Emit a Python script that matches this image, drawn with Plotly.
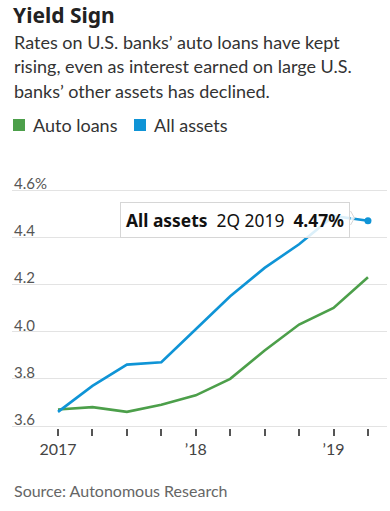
import plotly.graph_objects as go

quarters = ["1Q 2017", "2Q 2017", "3Q 2017", "4Q 2017",
            "1Q 2018", "2Q 2018", "3Q 2018", "4Q 2018",
            "1Q 2019", "2Q 2019"]
auto_loans = [3.67, 3.68, 3.66, 3.69, 3.73, 3.80, 3.92, 4.03, 4.10, 4.23]
all_assets = [3.66, 3.77, 3.86, 3.87, 4.01, 4.15, 4.27, 4.37, 4.49, 4.47]
x_labels = ["2017", "", "", "", "’18", "", "", "", "’19", ""]
y_ticks = [3.6, 3.8, 4.0, 4.2, 4.4, 4.6]
y_labels = ["3.6", "3.8", "4.0", "4.2", "4.4", "4.6%"]

GREEN = "#4c9f4a"
BLUE = "#0f94d6"
FONT = "Lato"

W, H = 390, 511
L, R, T, B = 12, 3, 160, 83
PW, PH = W - L - R, H - T - B
X0 = 58.0      # pixel of first quarter
DX = 34.44     # pixels per quarter
Y36 = 426.0    # pixel of 3.6
DY = 236.0     # pixels per 1.0


def px(x):
    return (x - L) / PW


def py(y):
    return (H - B - y) / PH


xi = list(range(len(quarters)))

fig = go.Figure()
fig.add_trace(go.Scatter(x=xi, y=auto_loans, mode="lines", name="Auto loans",
                         line=dict(color=GREEN, width=2.6), hoverinfo="skip"))
fig.add_trace(go.Scatter(x=xi, y=all_assets, mode="lines", name="All assets",
                         line=dict(color=BLUE, width=2.6), hoverinfo="skip"))
fig.add_trace(go.Scatter(x=[xi[-1]], y=[all_assets[-1]], mode="markers",
                         marker=dict(color=BLUE, size=7), hoverinfo="skip",
                         showlegend=False))

annotations = []
shapes = []

annotations.append(dict(text="<b>Yield Sign</b>", x=px(11), y=py(15), xref="paper", yref="paper",
                        xanchor="left", yanchor="middle", showarrow=False,
                        font=dict(family="Noto Sans", size=21, color="#222")))
sub = ["Rates on U.S. banks’ auto loans have kept",
       "rising, even as interest earned on large U.S.",
       "banks’ other assets has declined."]
for i, s in enumerate(sub):
    annotations.append(dict(text=s, x=px(12), y=py(42 + i * 24.3), xref="paper", yref="paper",
                            xanchor="left", yanchor="middle", showarrow=False,
                            font=dict(family=FONT, size=18, color="#333")))

# legend
for (x0, color, name) in [(13, GREEN, "Auto loans"), (134, BLUE, "All assets")]:
    shapes.append(dict(type="rect", xref="paper", yref="paper",
                       x0=px(x0), x1=px(x0 + 12), y0=py(131), y1=py(119),
                       fillcolor=color, line=dict(width=0)))
    annotations.append(dict(text=name, x=px(x0 + 18), y=py(125.5), xref="paper", yref="paper",
                            xanchor="left", yanchor="middle", showarrow=False,
                            font=dict(family=FONT, size=18, color="#333")))

# y-axis labels sitting above their gridlines
for v, lab in zip(y_ticks, y_labels):
    annotations.append(dict(text=lab, x=0, y=v, xref="paper", yref="y",
                            xanchor="left", yanchor="middle", yshift=7, showarrow=False,
                            font=dict(family=FONT, size=15, color="#555")))

# tooltip
annotations.append(dict(
    text=f"<b>All assets</b>&nbsp;&nbsp;{quarters[-1]}&nbsp;&nbsp;<b>{all_assets[-1]:.2f}%</b>",
    x=px(120), y=py(220), xref="paper", yref="paper", xanchor="left", yanchor="middle",
    showarrow=False, bgcolor="rgba(255,255,255,0.85)", bordercolor="#d6d6d6",
    borderwidth=1, borderpad=5, font=dict(family="Noto Sans", size=17.4, color="#111")))
# tooltip pointer
shapes.append(dict(type="path", xref="paper", yref="paper",
                   path=f"M {px(350.5)} {py(211)} L {px(354.5)} {py(218)} L {px(350.5)} {py(225)}",
                   line=dict(color="#d6d6d6", width=1), fillcolor="rgba(255,255,255,0.85)"))

annotations.append(dict(text="Source: Autonomous Research", x=px(12), y=py(490),
                        xref="paper", yref="paper", xanchor="left", yanchor="middle",
                        showarrow=False, font=dict(family=FONT, size=16, color="#666")))

x_lo = (L - X0) / DX
x_hi = (W - R - X0) / DX
y_lo = 3.6 - (H - B - Y36) / DY
y_hi = 3.6 + (Y36 - T) / DY

fig.update_layout(
    width=W, height=H,
    margin=dict(l=L, r=R, t=T, b=B),
    paper_bgcolor="white", plot_bgcolor="white",
    showlegend=False,
    annotations=annotations, shapes=shapes,
    xaxis=dict(range=[x_lo, x_hi], tickvals=xi, ticktext=x_labels,
               ticks="outside", ticklen=7, tickwidth=1.5, tickcolor="#555",
               showgrid=False, zeroline=False, showline=False,
               tickfont=dict(family=FONT, size=16, color="#444"), fixedrange=True),
    yaxis=dict(range=[y_lo, y_hi], tickvals=y_ticks, showticklabels=False, ticks="",
               showgrid=True, gridcolor="#e3e3e3", gridwidth=1.2,
               zeroline=False, showline=False, fixedrange=True),
)

fig.write_html("out.html", config={"displayModeBar": False},
               post_script="document.body.style.margin='0';document.body.style.overflow='hidden';")
